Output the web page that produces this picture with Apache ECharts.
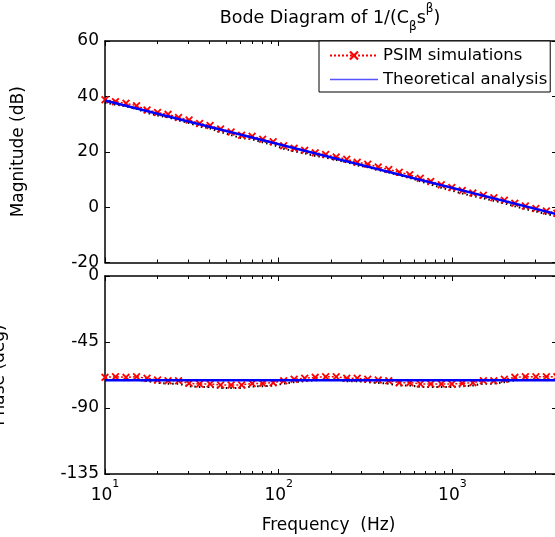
<!DOCTYPE html>
<html><head><meta charset="utf-8">
<script src="https://cdn.jsdelivr.net/npm/echarts@6/dist/echarts.min.js"></script>
<style>html,body{margin:0;padding:0;background:#fff}#c{width:555px;height:537px}</style>
</head><body><div id="c"></div>
<script>
// ---- data ----
const simFreq = [10, 11.49, 13.21, 15.19, 17.46, 20.07, 23.07, 26.51, 30.48, 35.04,
  40.27, 46.29, 53.21, 61.16, 70.31, 80.82, 92.90, 106.8, 122.7, 141.1,
  162.2, 186.4, 214.3, 246.4, 283.1, 325.5, 374.1, 430.1, 494.3, 568.2,
  653.1, 750.7, 863.0, 992.0, 1140, 1311, 1507, 1732, 1991, 2288,
  2630, 3024, 3475, 3995];
const simMag = [38.8, 38.1, 37.5, 36.6, 35.1, 34.2, 33.5, 32.4, 31.5, 30.2,
  29.5, 28.2, 27.1, 26.0, 25.6, 24.5, 23.6, 22.2, 21.3, 20.5,
  19.6, 19.0, 18.1, 17.3, 16.2, 15.5, 14.5, 13.6, 12.6, 11.7,
  10.4, 9.3, 8.1, 7.1, 6.0, 5.1, 4.3, 3.4, 2.5, 1.4,
  0.4, -0.5, -1.4, -2.2];
const simPhase = [-69.1, -68.7, -69.1, -68.7, -69.7, -70.9, -71.4, -71.4, -73.2, -73.6,
  -73.6, -74.3, -74.3, -74.3, -73.3, -73.2, -72.7, -71.4, -70.4, -69.7,
  -69.1, -68.7, -68.7, -69.7, -69.7, -70.4, -70.9, -71.4, -72.7, -72.7,
  -73.6, -73.6, -73.6, -73.6, -73.2, -72.7, -71.4, -71.4, -70.4, -69.1,
  -68.7, -68.7, -68.7, -68.7];
const theoryFreq = [10, 4000];
const theoryMag = [38.5, -2.6];
const theoryPhase = [-71.1, -71.1];
const decadeTicks = [10, 100, 1000];
const minorTicks = [20, 30, 40, 50, 60, 70, 80, 90, 200, 300, 400, 500, 600, 700, 800, 900, 2000, 3000];
const freqRange = [10, 4000];
const magRange = [-20, 60, 20];
const phaseRange = [-135, 0, 45];

// ---- build ----
const L = f => Math.log10(f);
const pairs = (fs, vs) => fs.map((f, i) => [L(f), vs[i]]);
const XMIN = L(freqRange[0]), XMAX = L(freqRange[1]);
const FONT = 'DejaVu Sans';
const FS = 17;
const BLK = '#000';
const xPath = 'path://M0,1.6 L1.6,0 L5,3.4 L8.4,0 L10,1.6 L6.6,5 L10,8.4 L8.4,10 L5,6.6 L1.6,10 L0,8.4 L3.4,5 Z';

function xAx(grid, pos, ticks, len, line, labels) {
  const a = {
    type: 'value', gridIndex: grid, position: pos, min: XMIN, max: XMAX,
    axisLine: { show: line, onZero: false, lineStyle: { color: BLK, width: 1.5 } },
    axisTick: { show: true, inside: true, length: len, customValues: ticks.map(L), lineStyle: { color: BLK, width: 1 } },
    axisLabel: { show: false },
    splitLine: { show: false }
  };
  if (labels) {
    a.axisLabel = {
      show: true, customValues: ticks.map(L), margin: 5,
      formatter: v => '{b|10}{s|' + Math.round(v) + '}',
      rich: {
        b: { fontFamily: FONT, fontSize: FS, color: BLK, lineHeight: 34 },
        s: { fontFamily: FONT, fontSize: 11, color: BLK, lineHeight: 12, verticalAlign: 'top' }
      }
    };
    a.name = 'Frequency  (Hz)';
    a.nameLocation = 'middle';
    a.nameGap = 43;
    a.nameTextStyle = { fontFamily: FONT, fontSize: FS, color: BLK, padding: [0, 5, 0, 0] };
  }
  return a;
}
function yAx(grid, pos, r, labels, name, gap) {
  const a = {
    type: 'value', gridIndex: grid, position: pos, min: r[0], max: r[1], interval: r[2],
    axisLine: { show: true, onZero: false, lineStyle: { color: BLK, width: 1.5 } },
    axisTick: { show: true, inside: true, length: 5, lineStyle: { color: BLK, width: 1 } },
    axisLabel: { show: labels, margin: 6, fontFamily: FONT, fontSize: FS, color: BLK },
    splitLine: { show: false }
  };
  if (name) {
    a.name = name; a.nameLocation = 'middle'; a.nameGap = gap;
    a.nameTextStyle = { fontFamily: FONT, fontSize: FS, color: BLK };
  }
  return a;
}
function hiddenY(grid, lo, hi) {
  return { type: 'value', gridIndex: grid, min: lo, max: hi, show: false, splitLine: { show: false } };
}

const chart = echarts.init(document.getElementById('c'), null, { renderer: 'canvas' });
chart.setOption({
  animation: false,
  backgroundColor: '#fff',
  textStyle: { fontFamily: FONT },
  graphic: [{
    type: 'text', x: 330, y: 18, z: 10,
    style: {
      text: '{a|Bode Diagram of 1/(C}{d|β}{a|s}{u|β}{a|)}',
      align: 'center', verticalAlign: 'middle',
      rich: {
        a: { fontFamily: FONT, fontSize: 17.5, fill: BLK, lineHeight: 30 },
        d: { fontFamily: FONT, fontSize: 12, fill: BLK, lineHeight: 12, verticalAlign: 'bottom' },
        u: { fontFamily: FONT, fontSize: 12, fill: BLK, lineHeight: 12, verticalAlign: 'top' }
      }
    }
  }],
  grid: [
    { left: 105, right: -2, top: 41, height: 221.5, outerBoundsMode: 'none', containLabel: false },
    { left: 105, right: -2, top: 276, height: 198, outerBoundsMode: 'none', containLabel: false }
  ],
  xAxis: [
    xAx(0, 'bottom', decadeTicks, 5, true, false),
    xAx(0, 'bottom', minorTicks, 3, false, false),
    xAx(0, 'top', decadeTicks, 5, true, false),
    xAx(0, 'top', minorTicks, 3, false, false),
    xAx(1, 'bottom', decadeTicks, 5, true, true),
    xAx(1, 'bottom', minorTicks, 3, false, false),
    xAx(1, 'top', decadeTicks, 5, true, false),
    xAx(1, 'top', minorTicks, 3, false, false)
  ],
  yAxis: [
    yAx(0, 'left', magRange, true, 'Magnitude (dB)', 78),
    yAx(0, 'right', magRange, false),
    hiddenY(0, magRange[0] + 1.1, magRange[1] + 1.1),
    yAx(1, 'left', phaseRange, true, 'Phase (deg)', 97),
    yAx(1, 'right', phaseRange, false),
    hiddenY(1, phaseRange[0] + 2, phaseRange[1] + 2)
  ],
  legend: {
    orient: 'vertical', left: 319, top: 41, z: 20,
    padding: [5, 3, 3, 10], itemGap: 5, itemWidth: 48, itemHeight: 12,
    backgroundColor: '#fff', borderColor: BLK, borderWidth: 1, borderRadius: 0,
    textStyle: { fontFamily: FONT, fontSize: 16.5, color: BLK, lineHeight: 19 },
    data: [
      { name: 'PSIM simulations' },
      { name: 'Theoretical analysis', itemStyle: { opacity: 0 }, lineStyle: { width: 1.5, color: '#5555ff' } }
    ]
  },
  series: [
    { name: 'shadow', type: 'line', xAxisIndex: 0, yAxisIndex: 2, data: pairs(simFreq, simMag),
      symbol: 'none', silent: true, z: 1, lineStyle: { color: BLK, width: 2, type: [1.5, 3] } },
    { name: 'PSIM simulations', type: 'line', xAxisIndex: 0, yAxisIndex: 0, data: pairs(simFreq, simMag),
      symbol: xPath, symbolSize: 8, z: 2, itemStyle: { color: '#ff0000' },
      lineStyle: { color: '#ff0000', width: 1.5, type: [2, 2] } },
    { name: 'Theoretical analysis', type: 'line', xAxisIndex: 0, yAxisIndex: 0, data: pairs(theoryFreq, theoryMag),
      symbol: 'none', z: 3, itemStyle: { color: '#0000ff' }, lineStyle: { color: '#0000ff', width: 2.5 } },
    { name: 'shadow', type: 'line', xAxisIndex: 4, yAxisIndex: 5, data: pairs(simFreq, simPhase),
      symbol: 'none', silent: true, z: 1, lineStyle: { color: BLK, width: 2, type: [1.5, 3] } },
    { name: 'PSIM simulations', type: 'line', xAxisIndex: 4, yAxisIndex: 3, data: pairs(simFreq, simPhase),
      symbol: xPath, symbolSize: 8, z: 2, itemStyle: { color: '#ff0000' },
      lineStyle: { color: '#ff0000', width: 1.5, type: [2, 2] } },
    { name: 'Theoretical analysis', type: 'line', xAxisIndex: 4, yAxisIndex: 3, data: pairs(theoryFreq, theoryPhase),
      symbol: 'none', z: 3, itemStyle: { color: '#0000ff' }, lineStyle: { color: '#0000ff', width: 2.5 } }
  ]
});
</script></body></html>
